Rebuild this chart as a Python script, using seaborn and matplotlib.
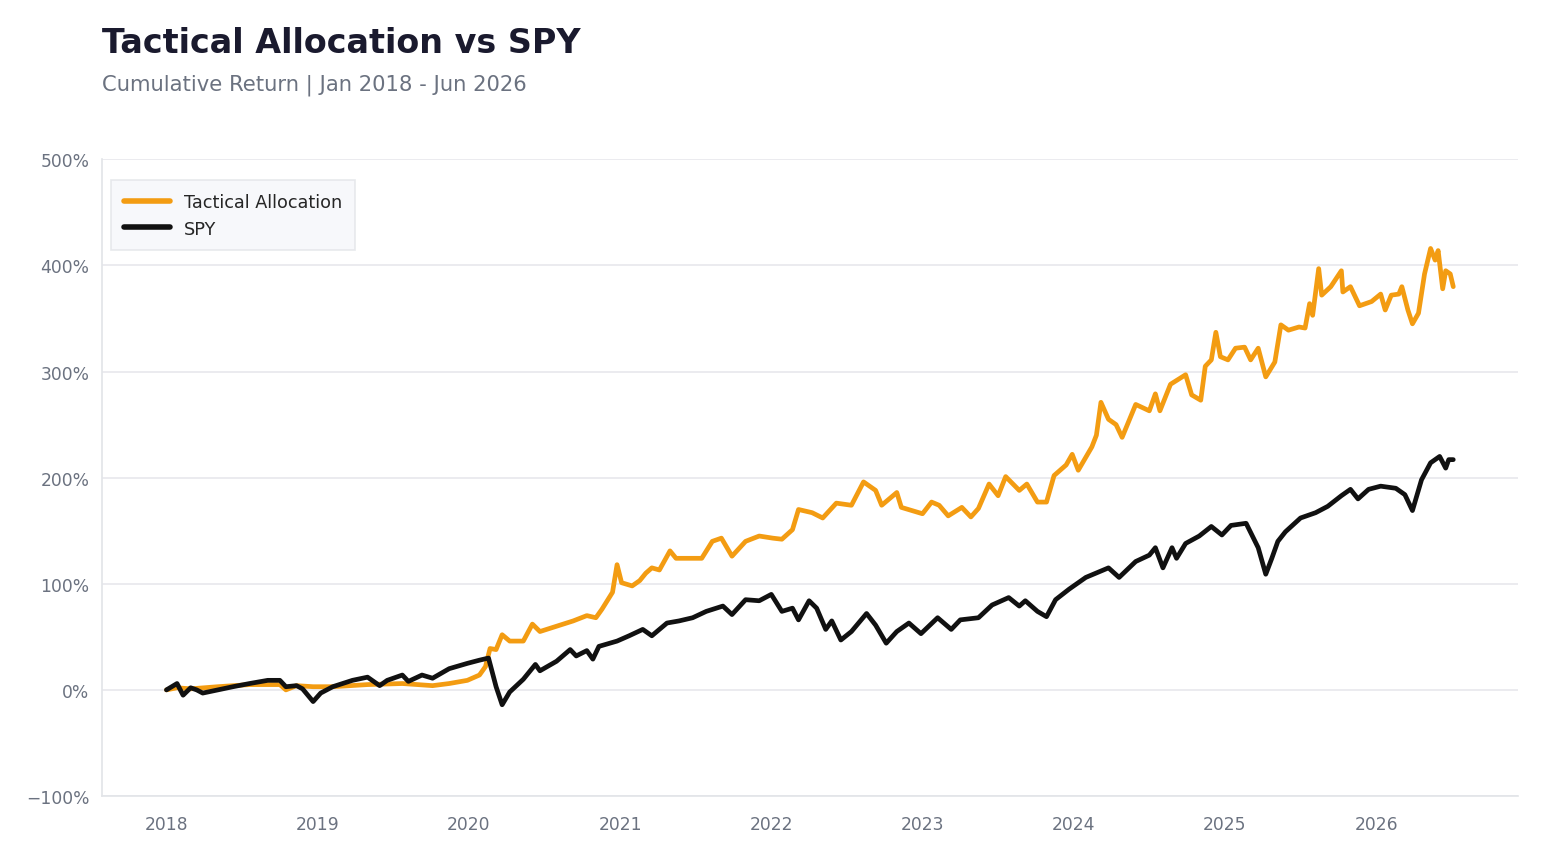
import numpy as np
import pandas as pd
import matplotlib
matplotlib.use("Agg")
import matplotlib.pyplot as plt
import matplotlib.ticker as mticker
import seaborn as sns

# ---- data (time in fractional years, cumulative return in %) ----
spy_t = [2018.00, 2018.07, 2018.11, 2018.16, 2018.20, 2018.24, 2018.34, 2018.44, 2018.55, 2018.67,
         2018.75, 2018.79, 2018.86, 2018.90, 2018.97, 2019.02, 2019.10, 2019.23, 2019.33, 2019.41,
         2019.46, 2019.56, 2019.60, 2019.69, 2019.76, 2019.87, 2019.99, 2020.07, 2020.13, 2020.18,
         2020.22, 2020.27, 2020.36, 2020.44, 2020.47, 2020.58, 2020.67, 2020.71, 2020.78, 2020.82,
         2020.86, 2020.98, 2021.06, 2021.15, 2021.21, 2021.31, 2021.39, 2021.48, 2021.57, 2021.68,
         2021.74, 2021.83, 2021.92, 2022.00, 2022.07, 2022.14, 2022.18, 2022.25, 2022.30, 2022.36,
         2022.40, 2022.46, 2022.53, 2022.63, 2022.69, 2022.76, 2022.83, 2022.91, 2022.99, 2023.10,
         2023.19, 2023.25, 2023.37, 2023.46, 2023.57, 2023.64, 2023.68, 2023.76, 2023.82, 2023.88,
         2023.97, 2024.08, 2024.23, 2024.30, 2024.41, 2024.50, 2024.54, 2024.59, 2024.65, 2024.68,
         2024.74, 2024.83, 2024.91, 2024.98, 2025.04, 2025.14, 2025.22, 2025.27, 2025.31, 2025.35,
         2025.40, 2025.50, 2025.60, 2025.68, 2025.77, 2025.83, 2025.88, 2025.95, 2026.03, 2026.13,
         2026.19, 2026.24, 2026.30, 2026.36, 2026.42, 2026.46, 2026.48, 2026.51]
spy_ret = [0, 6, -5, 2, 0, -3, 0, 3, 6, 9,
           9, 3, 4, 1, -11, -3, 3, 9, 12, 4,
           9, 14, 8, 14, 11, 20, 25, 28, 30, 3,
           -14, -2, 10, 24, 18, 27, 38, 32, 37, 29,
           41, 46, 51, 57, 51, 63, 65, 68, 74, 79,
           71, 85, 84, 90, 74, 77, 66, 84, 77, 57,
           65, 47, 55, 72, 61, 44, 55, 63, 53, 68,
           57, 66, 68, 80, 87, 79, 84, 74, 69, 85,
           95, 106, 115, 106, 121, 127, 134, 115, 134, 124,
           138, 145, 154, 146, 155, 157, 134, 109, 124, 140,
           149, 162, 167, 173, 183, 189, 180, 189, 192, 190,
           184, 169, 198, 214, 220, 209, 217, 217]

tac_t = [2018.00, 2018.07, 2018.16, 2018.34, 2018.55, 2018.75, 2018.79, 2018.86, 2018.97, 2019.10,
         2019.33, 2019.56, 2019.76, 2019.87, 2019.99, 2020.07, 2020.11, 2020.14, 2020.18, 2020.22,
         2020.27, 2020.36, 2020.42, 2020.47, 2020.58, 2020.69, 2020.78, 2020.84, 2020.88, 2020.95,
         2020.98, 2021.01, 2021.08, 2021.13, 2021.17, 2021.21, 2021.26, 2021.33, 2021.37, 2021.46,
         2021.54, 2021.61, 2021.67, 2021.74, 2021.83, 2021.92, 2022.01, 2022.07, 2022.14, 2022.18,
         2022.27, 2022.34, 2022.43, 2022.53, 2022.61, 2022.69, 2022.73, 2022.83, 2022.86, 2022.93,
         2023.00, 2023.06, 2023.11, 2023.17, 2023.26, 2023.32, 2023.37, 2023.44, 2023.50, 2023.55,
         2023.64, 2023.69, 2023.76, 2023.82, 2023.87, 2023.95, 2023.99, 2024.03, 2024.12, 2024.15,
         2024.18, 2024.23, 2024.28, 2024.32, 2024.41, 2024.50, 2024.54, 2024.57, 2024.64, 2024.74,
         2024.78, 2024.84, 2024.87, 2024.91, 2024.94, 2024.97, 2025.02, 2025.07, 2025.13, 2025.17,
         2025.22, 2025.27, 2025.33, 2025.37, 2025.42, 2025.49, 2025.53, 2025.56, 2025.58, 2025.62,
         2025.64, 2025.70, 2025.77, 2025.78, 2025.83, 2025.89, 2025.97, 2026.03, 2026.06, 2026.10,
         2026.15, 2026.17, 2026.21, 2026.24, 2026.28, 2026.32, 2026.36, 2026.39, 2026.41, 2026.44,
         2026.46, 2026.49, 2026.51]
tac_ret = [0, 2, 1, 3, 5, 5, 0, 4, 3, 3,
           5, 6, 4, 6, 9, 14, 22, 39, 38, 52,
           46, 46, 62, 55, 60, 65, 70, 68, 76, 92,
           118, 101, 98, 103, 110, 115, 113, 131, 124, 124,
           124, 140, 143, 126, 140, 145, 143, 142, 151, 170,
           167, 162, 176, 174, 196, 188, 174, 186, 172, 169,
           166, 177, 174, 164, 172, 163, 171, 194, 183, 201,
           188, 194, 177, 177, 202, 212, 222, 207, 229, 240,
           271, 255, 250, 238, 269, 263, 279, 263, 288, 297,
           278, 273, 305, 311, 337, 314, 311, 322, 323, 311,
           322, 295, 309, 344, 339, 342, 341, 364, 353, 397,
           372, 380, 395, 375, 380, 362, 366, 373, 358, 372,
           373, 380, 358, 345, 355, 392, 416, 405, 414, 378,
           395, 392, 380]

series_names = ["Tactical Allocation", "SPY"]
series_colors = ["#F39C12", "#111111"]
year_ticks = list(range(2018, 2027))
y_ticks = list(range(-100, 501, 100))

title = "Tactical Allocation vs SPY"
subtitle = "Cumulative Return | Jan 2018 - Jun 2026"

df = pd.concat([
    pd.DataFrame({"t": tac_t, "ret": tac_ret, "series": series_names[0]}),
    pd.DataFrame({"t": spy_t, "ret": spy_ret, "series": series_names[1]}),
], ignore_index=True)

sns.set_theme(style="white")
plt.rcParams["font.family"] = "sans-serif"
plt.rcParams["font.sans-serif"] = ["DejaVu Sans"]

fig = plt.figure(figsize=(15.47, 8.62), dpi=100)
ax = fig.add_axes([0.066, 0.0754, 0.915, 0.7386])

sns.lineplot(data=df, x="t", y="ret", hue="series", hue_order=series_names,
             palette=dict(zip(series_names, series_colors)), estimator=None,
             sort=False, linewidth=3.4, ax=ax)

ax.set_ylim(-100, 500)
ax.set_yticks(y_ticks)
ax.yaxis.set_major_formatter(mticker.PercentFormatter(xmax=100, decimals=0))
ax.set_xticks(year_ticks)
ax.set_xticklabels([str(y) for y in year_ticks])
ax.margins(x=0.05)
ax.set_xlabel("")
ax.set_ylabel("")

ax.grid(axis="y", color="#E8E8EC", linewidth=1.2)
ax.grid(axis="x", visible=False)
ax.set_axisbelow(True)
for side in ["top", "right"]:
    ax.spines[side].set_visible(False)
for side in ["left", "bottom"]:
    ax.spines[side].set_color("#E2E4E8")
    ax.spines[side].set_linewidth(1.2)

ax.tick_params(axis="both", length=0, labelsize=12.3, labelcolor="#6B7280")
ax.tick_params(axis="y", pad=9)
ax.tick_params(axis="x", pad=14)

leg = ax.legend(loc="upper left", bbox_to_anchor=(0.0064, 0.967), borderaxespad=0,
                fontsize=12.7, frameon=True, fancybox=False, borderpad=0.72,
                handlelength=2.6, labelspacing=0.48)
leg.get_frame().set_facecolor("#F5F7FA")
leg.get_frame().set_edgecolor("#E2E4E8")
leg.get_frame().set_linewidth(1.2)
for line in leg.get_lines():
    line.set_linewidth(4)

fig.text(0.066, 0.949, title, fontsize=24, fontweight="bold", color="#1A1A2E",
         ha="left", va="center")
fig.text(0.066, 0.901, subtitle, fontsize=15.2, color="#6B7280",
         ha="left", va="center")

fig.savefig("out.png", dpi=100)
